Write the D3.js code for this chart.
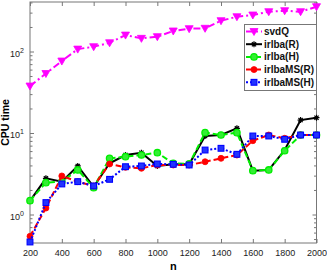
<!DOCTYPE html>
<html><head><meta charset="utf-8">
<script src="https://cdn.jsdelivr.net/npm/d3@7"></script>
<style>
html,body{margin:0;padding:0;background:#fff;}
svg{display:block;font-family:"Liberation Sans",Arial,sans-serif;}
</style></head>
<body><svg id="c" width="327" height="273"></svg>
<script>
const nValues = [200,300,400,500,600,700,800,900,1000,1100,1200,1300,1400,1500,1600,1700,1800,1900,2000];
const svdQ = [37.7,53.7,76.4,107,114.5,128,159,145,152,178.5,190.5,192.6,238.8,267,280.5,307.8,316.7,307.8,354.6];
const irlbaR = [1.47,2.78,2.53,3.94,2.19,4.25,5.37,5.73,3.94,4.13,4.13,9.19,9.45,11.4,3.45,3.52,6.18,14.4,15.4];
const irlbaH = [1.48,2.46,2.53,3.52,2.13,4.89,5.12,5.37,5.73,4.25,4.17,10.1,9.45,10.1,3.45,3.52,6.06,9.45,9.45];
const irlbaMSR = [0.54,1.2,2.97,2.53,2.24,4.17,3.79,3.69,4.05,4.05,4.05,4.44,4.89,5.37,8.05,9.45,8.61,9.45,9.45];
const irlbaMSH = [0.46,1.40,2.37,2.53,2.24,2.70,3.86,3.94,4.17,4.13,4.05,6.18,6.49,5.48,9.19,9.19,8.37,9.45,9.45];
const seriesNames = ["svdQ","irlba(R)","irlba(H)","irlbaMS(R)","irlbaMS(H)"];
const xTicks = [200,400,600,800,1000,1200,1400,1600,1800,2000];
const yTicks = [1,10,100];
const yDomain = [0.447,405];
const xLabel = "n", yLabel = "CPU time";

const svg = d3.select("#c");
const L=30, R=316.5, T=2, B=243;
const x = d3.scaleLinear().domain([200,2000]).range([L,R]);
const y = d3.scaleLog().domain(yDomain).range([B,T]);

const styles = [
 {data:svdQ, color:"#ff00ff", dash:"7,3,2,3", marker:"tri"},
 {data:irlbaR, color:"#000000", dash:null, marker:"star"},
 {data:irlbaH, color:"#00ee00", dash:"6,3", marker:"circ"},
 {data:irlbaMSR, color:"#ff0000", dash:"6,3", marker:"dot"},
 {data:irlbaMSH, color:"#0000ff", dash:"2,2", marker:"sq"}
];

const minor=[];
for (let e=-1;e<=2;e++) for (let k=2;k<=9;k++){const v=k*Math.pow(10,e); if(v>=yDomain[0]&&v<=yDomain[1]) minor.push(v);}
const axColor="#777";
function styleAxis(g){g.select(".domain").remove();g.selectAll("line").attr("stroke",axColor);g.selectAll("text").attr("fill","#222").style("font-size","9px").style("font-family","'Liberation Sans',Arial,sans-serif");}

svg.append("g").attr("transform",`translate(0,${B})`).call(d3.axisBottom(x).tickValues(xTicks).tickSizeInner(-4).tickSizeOuter(0).tickPadding(7).tickFormat(d3.format("d"))).call(styleAxis);
svg.append("g").attr("transform",`translate(0,${T})`).call(d3.axisTop(x).tickValues(xTicks).tickSizeInner(-4).tickSizeOuter(0).tickFormat("")).call(styleAxis);
const yl = svg.append("g").attr("transform",`translate(${L},0)`).call(d3.axisLeft(y).tickValues(yTicks).tickSizeInner(-4).tickSizeOuter(0).tickPadding(6).tickFormat(()=>"")).call(styleAxis);
yl.selectAll(".tick text").each(function(d){
  const t=d3.select(this);
  t.append("tspan").text("10");
  t.append("tspan").attr("dy","-4").style("font-size","7px").text(String(Math.round(Math.log10(d))));
  t.attr("text-anchor","end").attr("dy","0.5em");
});
svg.append("g").attr("transform",`translate(${R},0)`).call(d3.axisRight(y).tickValues(yTicks).tickSizeInner(-4).tickSizeOuter(0).tickFormat("")).call(styleAxis);
svg.append("g").attr("transform",`translate(${L},0)`).call(d3.axisLeft(y).tickValues(minor).tickSizeInner(-2.5).tickSizeOuter(0).tickFormat("")).call(styleAxis);
svg.append("g").attr("transform",`translate(${R},0)`).call(d3.axisRight(y).tickValues(minor).tickSizeInner(-2.5).tickSizeOuter(0).tickFormat("")).call(styleAxis);
svg.append("rect").attr("x",L).attr("y",T).attr("width",R-L).attr("height",B-T).attr("fill","none").attr("stroke",axColor).attr("stroke-width",1);

const line = d3.line().x((d,i)=>x(nValues[i])).y(d=>y(d));
function drawMarker(g,type,cx,cy,color){
  if(type==="tri"){g.append("path").attr("d",`M${cx-4},${cy-3}L${cx+4},${cy-3}L${cx},${cy+4}Z`).attr("fill",color).attr("stroke",color).attr("stroke-width",0.8);}
  else if(type==="star"){const s=3;g.append("path").attr("d",`M${cx-s},${cy}L${cx+s},${cy}M${cx-s*0.7},${cy-s*0.7}L${cx+s*0.7},${cy+s*0.7}M${cx-s*0.7},${cy+s*0.7}L${cx+s*0.7},${cy-s*0.7}M${cx},${cy-s}L${cx},${cy+s}`).attr("stroke",color).attr("stroke-width",1.2).attr("fill","none");}
  else if(type==="circ"){g.append("circle").attr("cx",cx).attr("cy",cy).attr("r",3.2).attr("fill","#33ee33").attr("stroke",color).attr("stroke-width",1.3);}
  else if(type==="dot"){g.append("circle").attr("cx",cx).attr("cy",cy).attr("r",3).attr("fill",color).attr("stroke",color).attr("stroke-width",0.8);}
  else if(type==="sq"){g.append("rect").attr("x",cx-2.9).attr("y",cy-2.9).attr("width",5.8).attr("height",5.8).attr("fill","#2233ff").attr("stroke",color).attr("stroke-width",1.1);}
}
const plot = svg.append("g");
styles.forEach(s=>{
  const g=plot.append("g");
  g.append("path").datum(s.data).attr("d",line).attr("fill","none").attr("stroke",s.color).attr("stroke-width",2).attr("stroke-dasharray",s.dash);
  s.data.forEach((v,i)=>drawMarker(g,s.marker,x(nValues[i]),y(v),s.color));
});

const lg = svg.append("g");
lg.append("rect").attr("x",244.5).attr("y",24.5).attr("width",72).attr("height",66).attr("fill","#fff").attr("stroke",axColor);
styles.forEach((s,i)=>{
  const yy=31.5+i*12.7;
  lg.append("line").attr("x1",246).attr("x2",262).attr("y1",yy).attr("y2",yy).attr("stroke",s.color).attr("stroke-width",2).attr("stroke-dasharray",s.dash);
  drawMarker(lg,s.marker,254,yy,s.color);
  lg.append("text").attr("x",264).attr("y",yy).attr("dy","0.35em").style("font-size","10px").style("font-weight","bold").attr("fill","#111").text(seriesNames[i]);
});

svg.append("text").attr("x",(L+R)/2).attr("y",270).attr("text-anchor","middle").style("font-size","11px").style("font-weight","bold").text(xLabel);
svg.append("text").attr("transform",`translate(9,${(T+B)/2}) rotate(-90)`).attr("text-anchor","middle").style("font-size","10.5px").style("font-weight","bold").text(yLabel);
</script></body></html>
